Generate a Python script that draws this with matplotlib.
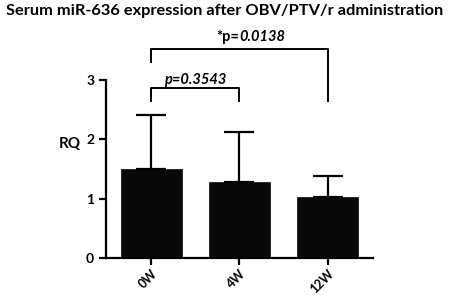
import matplotlib
matplotlib.use("Agg")
import matplotlib.pyplot as plt

# data
groups = ["0W", "4W", "12W"]
rq_mean = [1.50, 1.28, 1.03]
rq_sd = [0.91, 0.84, 0.35]
yticks = [0, 1, 2, 3]

plt.rcParams['font.family'] = ['Lato', 'DejaVu Sans']
plt.rcParams['font.weight'] = 'bold'

fig = plt.figure(figsize=(4.5, 2.95), dpi=100)
ax = fig.add_axes([0.2356, 0.1254, 0.593, 0.773])

x = list(range(len(groups)))
ax.bar(x, rq_mean, width=0.69, color='#080808', edgecolor='#080808',
       linewidth=0.5)
ax.errorbar(x, rq_mean, yerr=[[0] * len(rq_sd), rq_sd], fmt='none',
            ecolor='black', elinewidth=1.6, capsize=10.8, capthick=1.6)

ax.set_xlim(-0.51, 2.51)
ax.set_ylim(0, 3.845)
ax.spines['top'].set_visible(False)
ax.spines['right'].set_visible(False)
ax.spines['left'].set_bounds(0, 3)
ax.spines['left'].set_linewidth(1.6)
ax.spines['bottom'].set_linewidth(1.6)
ax.set_yticks(yticks)
ax.set_xticks(x)
ax.set_xticklabels(groups, rotation=45, ha='right', va='top',
                   rotation_mode='anchor', fontsize=9, fontweight='bold')
ax.tick_params(axis='both', width=1.6, length=5, labelsize=10)
ax.tick_params(axis='x', pad=2, labelsize=9)
for lab in ax.get_yticklabels():
    lab.set_fontweight('bold')
ax.set_ylabel('RQ', rotation=0, fontsize=11, fontweight='bold', va='center')
ax.yaxis.set_label_coords(-0.135, 0.5 * 2.0 / 3.845 * 2.0 / 2.0 + 0.24)

# significance brackets
ax.plot([0, 0, 1, 1], [2.65, 2.86, 2.86, 2.65], color='black', lw=1.4,
        clip_on=False)
ax.text(0.5, 3.0, 'p=0.3543', ha='center', va='center', fontsize=10.5,
        fontweight='bold', fontstyle='italic')
ax.plot([0, 0, 2, 2], [3.31, 3.52, 3.52, 2.65], color='black', lw=1.4,
        clip_on=False)
ax.text(1.0, 3.72, '*p=', ha='right', va='center', fontsize=10.5,
        fontweight='bold')
ax.text(1.0, 3.72, '0.0138', ha='left', va='center', fontsize=10.5,
        fontweight='bold', fontstyle='italic')

fig.suptitle('Serum miR-636 expression after OBV/PTV/r administration',
             x=0.5, y=0.985, fontsize=11.8, fontweight='bold')

fig.savefig('out.png', dpi=100)
